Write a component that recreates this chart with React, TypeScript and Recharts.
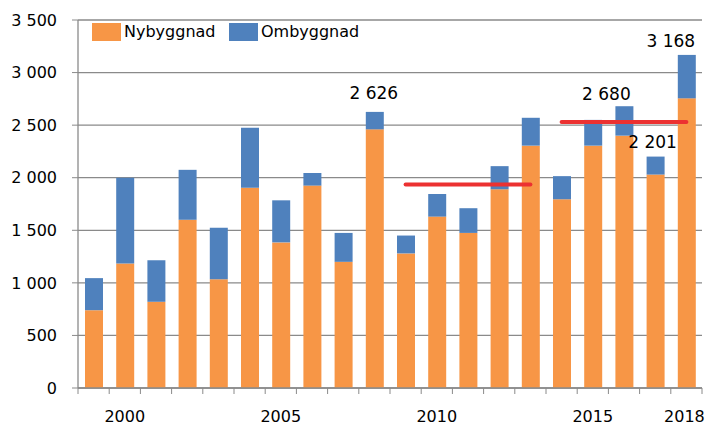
import {
	Bar,
	CartesianGrid,
	ComposedChart,
	LabelList,
	Line,
	XAxis,
	YAxis,
} from 'recharts'

const years = [
	1999, 2000, 2001, 2002, 2003, 2004, 2005, 2006, 2007, 2008, 2009, 2010, 2011,
	2012, 2013, 2014, 2015, 2016, 2017, 2018,
]
const nybyggnad = [
	740, 1185, 820, 1600, 1035, 1905, 1385, 1925, 1200, 2460, 1280, 1630, 1475,
	1890, 2305, 1795, 2305, 2400, 2030, 2755,
]
const ombyggnad = [
	305, 815, 395, 475, 490, 570, 400, 120, 275, 166, 170, 215, 235, 220, 265,
	220, 245, 280, 171, 413,
]
// medelnivåer (röda linjer)
const snitt2009till2013 = [
	null, null, null, null, null, null, null, null, null, null, 1935, 1935, 1935,
	1935, 1935, null, null, null, null, null,
]
const snitt2014till2018 = [
	null, null, null, null, null, null, null, null, null, null, null, null, null,
	null, null, 2530, 2530, 2530, 2530, 2530,
]
const totalEtiketter: Record<number, string> = {
	2008: '2 626',
	2016: '2 680',
	2017: '2 201',
	2018: '3 168',
}
const yTicks = [0, 500, 1000, 1500, 2000, 2500, 3000, 3500]
const xLabelYears = [2000, 2005, 2010, 2015, 2018]

const data = years.map((year, i) => ({
	year,
	nybyggnad: nybyggnad[i],
	ombyggnad: ombyggnad[i],
	snittA: snitt2009till2013[i],
	snittB: snitt2014till2018[i],
	etikett: totalEtiketter[year] ?? '',
}))

const FONT = "'DejaVu Sans', sans-serif"
const ORANGE = '#F79646'
const BLUE = '#4F81BD'
const RED = '#EC3131'
const GRID = '#8a8a8a'

const W = 705
const H = 426
const MARGIN = { top: 20, right: 3, left: 0, bottom: 8 }
const Y_AXIS_W = 78
const BAND = (W - MARGIN.left - MARGIN.right - Y_AXIS_W) / years.length

function formatThousands(v: number): string {
	return String(v).replace(/\B(?=(\d{3})+(?!\d))/g, ' ')
}

// nudges so the labels sit like in the original
const labelNudge: Record<number, { dx: number; dy: number }> = {
	2008: { dx: -1, dy: -19 },
	2016: { dx: -18, dy: -12 },
	2017: { dx: -3, dy: -15 },
	2018: { dx: -16, dy: -14 },
}

function TotalLabel(props: any) {
	const { x, y, width, value, index } = props
	if (!value) return null
	const year = years[index]
	const n = labelNudge[year] ?? { dx: 0, dy: -14 }
	return (
		<text
			x={Number(x) + Number(width) / 2 + n.dx}
			y={Number(y) + n.dy}
			textAnchor="middle"
			dominantBaseline="central"
			fontFamily={FONT}
			fontSize={17}
			fill="#000"
		>
			{value}
		</text>
	)
}

function YearTick(props: any) {
	const { x, y, payload, index } = props
	const year = payload.value as number
	const last = index === years.length - 1
	return (
		<g>
			<line x1={x - BAND / 2} x2={x - BAND / 2} y1={y} y2={y + 6} stroke={GRID} />
			{last && (
				<line x1={x + BAND / 2} x2={x + BAND / 2} y1={y} y2={y + 6} stroke={GRID} />
			)}
			{xLabelYears.includes(year) && (
				<text
					x={last ? x - 2 : x}
					y={y + 28}
					textAnchor="middle"
					dominantBaseline="central"
					fontFamily={FONT}
					fontSize={16}
					fill="#000"
				>
					{year}
				</text>
			)}
		</g>
	)
}

function LegendOverlay() {
	const item = (color: string, label: string, left: number) => (
		<div
			style={{
				position: 'absolute',
				left,
				top: 22,
				display: 'flex',
				alignItems: 'center',
				fontFamily: FONT,
				fontSize: 16,
				color: '#000',
				lineHeight: '19px',
			}}
		>
			<span
				style={{
					display: 'inline-block',
					width: 29,
					height: 18,
					background: color,
					marginRight: 3,
				}}
			/>
			{label}
		</div>
	)
	return (
		<>
			{item(ORANGE, 'Nybyggnad', 92)}
			{item(BLUE, 'Ombyggnad', 229)}
		</>
	)
}

export default function App() {
	return (
		<div style={{ position: 'relative', width: W, height: H, background: '#fff' }}>
			<style>{'body{margin:0}'}</style>
			<ComposedChart width={W} height={H} data={data} margin={MARGIN}>
				<CartesianGrid vertical={false} stroke={GRID} strokeWidth={1.3} />
				<XAxis
					dataKey="year"
					interval={0}
					height={30}
					axisLine={{ stroke: GRID, strokeWidth: 1.3 }}
					tickLine={false}
					tickSize={0}
					tickMargin={0}
					tick={<YearTick />}
				/>
				<YAxis
					width={Y_AXIS_W}
					domain={[0, 3500]}
					ticks={yTicks}
					tickFormatter={formatThousands}
					axisLine={{ stroke: GRID, strokeWidth: 1.3 }}
					tickLine={{ stroke: GRID }}
					tickSize={6}
					tickMargin={15}
					tick={{ fill: '#000', fontSize: 16, fontFamily: FONT }}
				/>
				<Bar
					dataKey="nybyggnad"
					stackId="a"
					fill={ORANGE}
					barSize={18}
					isAnimationActive={false}
				/>
				<Bar
					dataKey="ombyggnad"
					stackId="a"
					fill={BLUE}
					barSize={18}
					isAnimationActive={false}
				>
					<LabelList dataKey="etikett" content={<TotalLabel />} />
				</Bar>
				<Line
					dataKey="snittA"
					stroke={RED}
					strokeWidth={4}
					strokeLinecap="round"
					dot={false}
					activeDot={false}
					isAnimationActive={false}
				/>
				<Line
					dataKey="snittB"
					stroke={RED}
					strokeWidth={4}
					strokeLinecap="round"
					dot={false}
					activeDot={false}
					isAnimationActive={false}
				/>
			</ComposedChart>
			<LegendOverlay />
		</div>
	)
}
